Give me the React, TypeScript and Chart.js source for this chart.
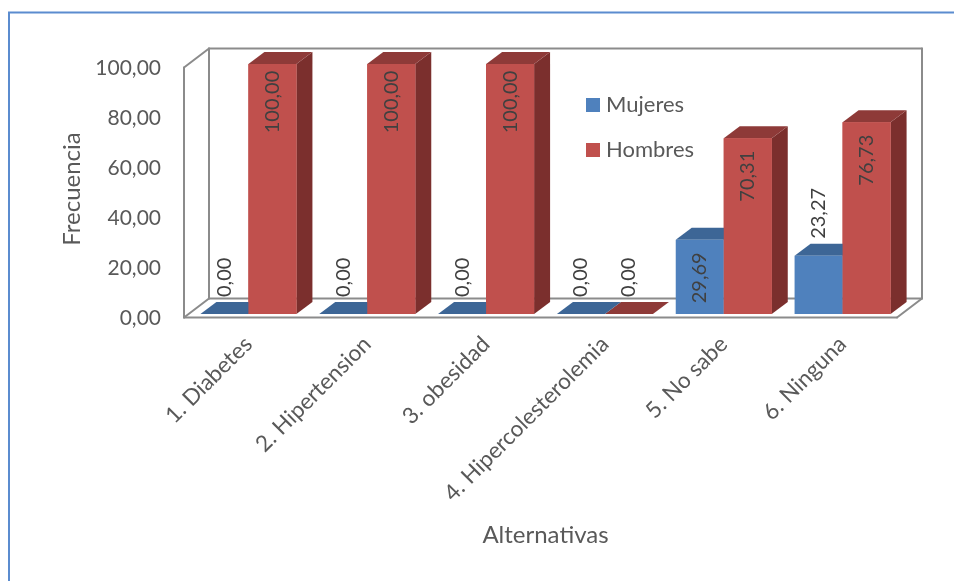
import React, { useEffect, useRef } from "react";
import { Chart, registerables } from "chart.js";

Chart.register(...registerables);

// ---- data ----
const categories = [
  "1. Diabetes",
  "2. Hipertension",
  "3. obesidad",
  "4. Hipercolesterolemia",
  "5. No sabe",
  "6. Ninguna",
];
const seriesNames = ["Mujeres", "Hombres"];
const mujeres = [0, 0, 0, 0, 29.69, 23.27];
const hombres = [100, 100, 100, 0, 70.31, 76.73];
const yTicks = [0, 20, 40, 60, 80, 100];

// ---- styling ----
const FONT = "Lato, 'Open Sans', sans-serif";
const TEXT = "#595959";
const LABEL = "#404040";
const FACES = [
  { front: "#4F81BD", top: "#3D6696", side: "#345785" },
  { front: "#C0504D", top: "#8E3A38", side: "#7B2F2D" },
];
// depth of each bar prism and of the surrounding box, relative to the bar front plane
const DEPTH = { dx: 16, dy: -12 };
const BOX_FRONT = { dx: -5, dy: 3.5 };
const BOX_BACK = { dx: 20, dy: -15.5 };

const fmt = (v: number) => v.toFixed(2).replace(".", ",");

const frame3d = {
  id: "frame3d",
  beforeDraw(chart: any) {
    const ctx = chart.ctx;
    ctx.save();
    ctx.strokeStyle = "#5B8CCF";
    ctx.lineWidth = 2;
    ctx.strokeRect(9, 12.5, 3000, 3000);
    ctx.restore();
  },
  beforeDatasetsDraw(chart: any) {
    const ctx = chart.ctx;
    const { left, right } = chart.chartArea;
    const ys = chart.scales.y;
    const y0 = ys.getPixelForValue(yTicks[0]);
    const y1 = ys.getPixelForValue(yTicks[yTicks.length - 1]);
    const F = (x: number, y: number) => [x + BOX_FRONT.dx, y + BOX_FRONT.dy];
    const B = (x: number, y: number) => [x + BOX_BACK.dx, y + BOX_BACK.dy];
    const seg = (a: number[], b: number[]) => {
      ctx.beginPath();
      ctx.moveTo(a[0], a[1]);
      ctx.lineTo(b[0], b[1]);
      ctx.stroke();
    };
    ctx.save();
    ctx.strokeStyle = "#8B8B8B";
    ctx.lineWidth = 2;
    ctx.lineCap = "round";
    // back wall
    seg(B(left, y1), B(right, y1));
    seg(B(right, y1), B(right, y0));
    seg(B(left, y1), B(left, y0));
    seg(B(left, y0), B(right, y0));
    // side wall
    seg(F(left, y1), B(left, y1));
    seg(F(left, y1), F(left, y0));
    seg(F(left, y0), B(left, y0));
    // floor
    seg(F(left, y0), F(right, y0));
    seg(F(right, y0), B(right, y0));
    ctx.restore();
  },
  beforeDatasetDraw(chart: any, args: any) {
    const ctx = chart.ctx;
    const meta = chart.getDatasetMeta(args.index);
    const f = FACES[args.index];
    ctx.save();
    meta.data.forEach((bar: any) => {
      const { x, y, base, width } = bar.getProps(["x", "y", "base", "width"], true);
      const l = x - width / 2;
      const r = x + width / 2;
      // right side face
      ctx.fillStyle = f.side;
      ctx.beginPath();
      ctx.moveTo(r, y);
      ctx.lineTo(r + DEPTH.dx, y + DEPTH.dy);
      ctx.lineTo(r + DEPTH.dx, base + DEPTH.dy);
      ctx.lineTo(r, base);
      ctx.closePath();
      ctx.fill();
      // top face
      ctx.fillStyle = f.top;
      ctx.beginPath();
      ctx.moveTo(l, y);
      ctx.lineTo(l + DEPTH.dx, y + DEPTH.dy);
      ctx.lineTo(r + DEPTH.dx, y + DEPTH.dy);
      ctx.lineTo(r, y);
      ctx.closePath();
      ctx.fill();
    });
    ctx.restore();
  },
  afterDatasetsDraw(chart: any) {
    const ctx = chart.ctx;
    // Chart.js paints the first dataset last; repaint the front faces of the
    // later series so they sit in front of the earlier series' prisms.
    chart.data.datasets.forEach((_ds: any, di: number) => {
      if (di === 0) return;
      chart.getDatasetMeta(di).data.forEach((bar: any) => bar.draw(ctx, chart.chartArea));
    });

    ctx.save();
    ctx.font = `20px ${FONT}`;
    ctx.fillStyle = LABEL;
    chart.data.datasets.forEach((ds: any, di: number) => {
      const meta = chart.getDatasetMeta(di);
      meta.data.forEach((bar: any, i: number) => {
        const { x, y, base } = bar.getProps(["x", "y", "base"], true);
        const text = fmt(ds.data[i]);
        const w = ctx.measureText(text).width;
        const h = base - y;
        ctx.save();
        if (h > w + 15) {
          ctx.translate(x, y + 38);
          ctx.rotate(-Math.PI / 2);
          ctx.textAlign = "center";
        } else {
          ctx.translate(x, y + DEPTH.dy - 5);
          ctx.rotate(-Math.PI / 2);
          ctx.textAlign = "left";
        }
        ctx.textBaseline = "middle";
        ctx.fillText(text, 0, 0);
        ctx.restore();
      });
    });
    ctx.restore();
  },
  afterDraw(chart: any) {
    const ctx = chart.ctx;
    ctx.save();
    ctx.font = `22px ${FONT}`;
    ctx.textBaseline = "middle";
    ctx.textAlign = "left";
    seriesNames.forEach((name, i) => {
      const cy = 105 + i * 45;
      ctx.fillStyle = FACES[i].front;
      ctx.fillRect(586, cy - 7, 14, 14);
      ctx.fillStyle = TEXT;
      ctx.fillText(name, 606, cy);
    });
    ctx.restore();
  },
};

export default function App() {
  const ref = useRef<HTMLCanvasElement>(null);

  useEffect(() => {
    if (!ref.current) return;
    const chart = new Chart(ref.current, {
      type: "bar",
      data: {
        labels: categories,
        datasets: [
          { label: seriesNames[0], data: mujeres, backgroundColor: FACES[0].front },
          { label: seriesNames[1], data: hombres, backgroundColor: FACES[1].front },
        ],
      },
      options: {
        responsive: false,
        animation: false,
        devicePixelRatio: 1,
        layout: { padding: { left: 0, right: 52, top: 64, bottom: 0 } },
        datasets: {
          bar: { barPercentage: 1, categoryPercentage: 0.808, borderWidth: 0 },
        },
        plugins: {
          legend: { display: false },
          tooltip: { enabled: false },
        },
        scales: {
          x: {
            grid: { display: false, drawTicks: false },
            border: { display: false },
            ticks: {
              autoSkip: false,
              minRotation: 45,
              maxRotation: 45,
              padding: 17,
              color: TEXT,
              font: { family: FONT, size: 22.5 },
            },
            title: {
              display: true,
              text: "Alternativas",
              color: TEXT,
              font: { family: FONT, size: 24 },
              padding: { top: 0, bottom: 31 },
            },
            afterFit: (s: any) => {
              s.height = 267;
            },
          },
          y: {
            min: yTicks[0],
            max: yTicks[yTicks.length - 1],
            grid: { display: false, drawTicks: false },
            border: { display: false },
            afterBuildTicks: (s: any) => {
              s.ticks = yTicks.map((v) => ({ value: v }));
            },
            ticks: {
              padding: 28,
              labelOffset: 4,
              color: TEXT,
              font: { family: FONT, size: 21 },
              callback: (v: any) => fmt(Number(v)),
            },
            title: {
              display: true,
              text: "Frecuencia",
              color: TEXT,
              font: { family: FONT, size: 24 },
              padding: { top: 57.6, bottom: 0 },
            },
            afterFit: (s: any) => {
              s.width = 189;
            },
          },
        },
      },
      plugins: [frame3d],
    });
    return () => chart.destroy();
  }, []);

  return (
    <div style={{ position: "absolute", left: 0, top: 0, width: 954, height: 581, background: "#fff" }}>
      <canvas ref={ref} width={954} height={581} />
    </div>
  );
}
